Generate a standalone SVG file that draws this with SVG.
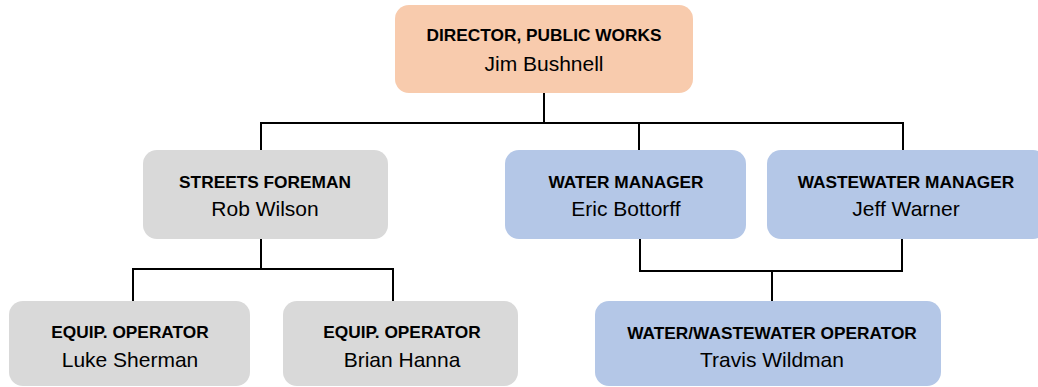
<svg xmlns="http://www.w3.org/2000/svg" width="1038" height="387" viewBox="0 0 1038 387">
<style>
.box{stroke:none}
.peach{fill:#F8CBAD}
.gray{fill:#D9D9D9}
.blue{fill:#B4C7E7}
.t{font-family:"Liberation Sans",Arial,sans-serif;font-weight:bold;font-size:17.3px;fill:#000;text-anchor:middle}
.n{font-family:"Liberation Sans",Arial,sans-serif;font-size:21px;fill:#000;text-anchor:middle}
.c{fill:none;stroke:#000;stroke-width:2;stroke-linejoin:miter}
</style>
<rect width="1038" height="387" fill="#fff"/>
<g id="connectors">
<path class="c" d="M544 93V123M261 150V123H903V150M639 123V150"/>
<path class="c" d="M261 239V269M133 301V269H393V301"/>
<path class="c" d="M640 239V271H902V239M772 271V301"/>
</g>
<g id="director">
<rect class="box peach" x="395" y="5" width="298" height="88" rx="14"/>
<text class="t" x="544" y="41">DIRECTOR, PUBLIC WORKS</text>
<text class="n" x="544" y="71">Jim Bushnell</text>
</g>
<g id="streets">
<rect class="box gray" x="143" y="150" width="245" height="89" rx="14"/>
<text class="t" x="265" y="188">STREETS FOREMAN</text>
<text class="n" x="265" y="216">Rob Wilson</text>
</g>
<g id="water">
<rect class="box blue" x="505" y="150" width="241" height="89" rx="14"/>
<text class="t" x="626" y="188">WATER MANAGER</text>
<text class="n" x="626" y="216">Eric Bottorff</text>
</g>
<g id="wastewater">
<rect class="box blue" x="767" y="150" width="280" height="89" rx="14"/>
<text class="t" x="906" y="188">WASTEWATER MANAGER</text>
<text class="n" x="906" y="216">Jeff Warner</text>
</g>
<g id="equip1">
<rect class="box gray" x="9" y="301" width="241" height="85" rx="14"/>
<text class="t" x="130" y="338">EQUIP. OPERATOR</text>
<text class="n" x="130" y="367">Luke Sherman</text>
</g>
<g id="equip2">
<rect class="box gray" x="283" y="301" width="235" height="85" rx="14"/>
<text class="t" x="402" y="338">EQUIP. OPERATOR</text>
<text class="n" x="402" y="367">Brian Hanna</text>
</g>
<g id="operator">
<rect class="box blue" x="595" y="301" width="346" height="85" rx="14"/>
<text class="t" x="772" y="339">WATER/WASTEWATER OPERATOR</text>
<text class="n" x="772" y="367">Travis Wildman</text>
</g>
</svg>
